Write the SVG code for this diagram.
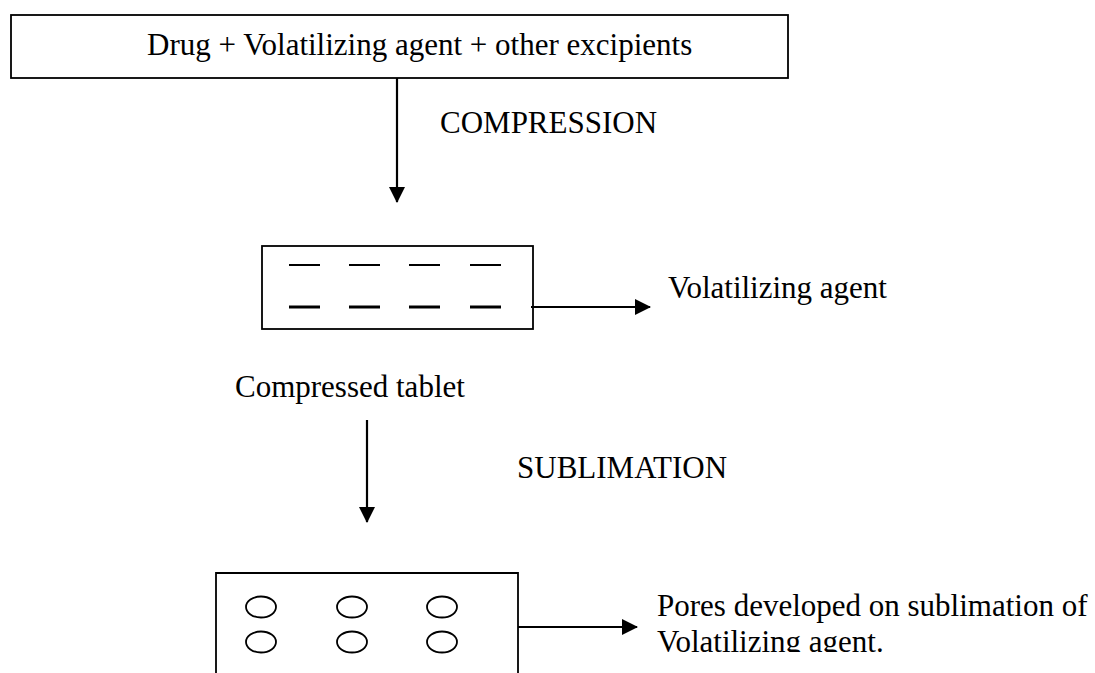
<svg xmlns="http://www.w3.org/2000/svg" width="1095" height="673" viewBox="0 0 1095 673">
<style>
  text { font-family: "Liberation Serif", "Times New Roman", serif; font-size: 31px; fill: #000; }
  .box { fill: none; stroke: #000; stroke-width: 1.8; }
  .conn { stroke: #000; stroke-width: 2.2; fill: none; }
  .dash1 { stroke: #000; stroke-width: 2; }
  .dash2 { stroke: #000; stroke-width: 3; }
  .pore { fill: none; stroke: #000; stroke-width: 1.8; }
</style>
<defs>
  <marker id="ah" markerUnits="userSpaceOnUse" markerWidth="16" markerHeight="16" viewBox="0 0 16 16" refX="15" refY="8" orient="auto">
    <path d="M0,0 L16,8 L0,16 Z" fill="#000"/>
  </marker>
  <clipPath id="clipText"><rect x="600" y="560" width="495" height="92"/></clipPath>
</defs>
<rect width="1095" height="673" fill="#fff"/>

<g id="mixture">
  <rect class="box" x="11" y="15" width="777" height="63"/>
  <text x="147" y="55">Drug + Volatilizing agent + other excipients</text>
</g>

<g id="compression-label">
  <text x="440" y="133">COMPRESSION</text>
</g>

<g id="compressed-tablet">
  <rect class="box" x="262" y="246" width="271" height="83"/>
  <line class="dash1" x1="289" y1="265" x2="320" y2="265"/>
  <line class="dash1" x1="349" y1="265" x2="380" y2="265"/>
  <line class="dash1" x1="409" y1="265" x2="440" y2="265"/>
  <line class="dash1" x1="470" y1="265" x2="501" y2="265"/>
  <line class="dash2" x1="289" y1="307" x2="320" y2="307"/>
  <line class="dash2" x1="349" y1="307" x2="380" y2="307"/>
  <line class="dash2" x1="409" y1="307" x2="440" y2="307"/>
  <line class="dash2" x1="470" y1="307" x2="501" y2="307"/>
  <text x="235" y="397">Compressed tablet</text>
</g>

<g id="volatilizing-label">
  <text x="668" y="298">Volatilizing agent</text>
</g>

<g id="sublimation-label">
  <text x="517" y="478">SUBLIMATION</text>
</g>

<g id="porous-tablet">
  <path class="box" d="M216,675 V573 H518 V675"/>
  <ellipse class="pore" cx="261" cy="607" rx="15" ry="10.5"/>
  <ellipse class="pore" cx="352" cy="607" rx="15" ry="10.5"/>
  <ellipse class="pore" cx="442" cy="607" rx="15" ry="10.5"/>
  <ellipse class="pore" cx="261" cy="642" rx="15" ry="10.5"/>
  <ellipse class="pore" cx="352" cy="642" rx="15" ry="10.5"/>
  <ellipse class="pore" cx="442" cy="642" rx="15" ry="10.5"/>
</g>

<g id="pores-label" clip-path="url(#clipText)">
  <text x="657" y="616">Pores developed on sublimation of</text>
  <text x="657" y="652">Volatilizing agent.</text>
</g>

<g id="connectors">
  <line class="conn" x1="397" y1="78" x2="397" y2="202" marker-end="url(#ah)"/>
  <line class="conn" x1="531" y1="307" x2="650" y2="307" marker-end="url(#ah)"/>
  <line class="conn" x1="367" y1="420" x2="367" y2="522" marker-end="url(#ah)"/>
  <line class="conn" x1="518" y1="627" x2="637" y2="627" marker-end="url(#ah)"/>
</g>
</svg>
